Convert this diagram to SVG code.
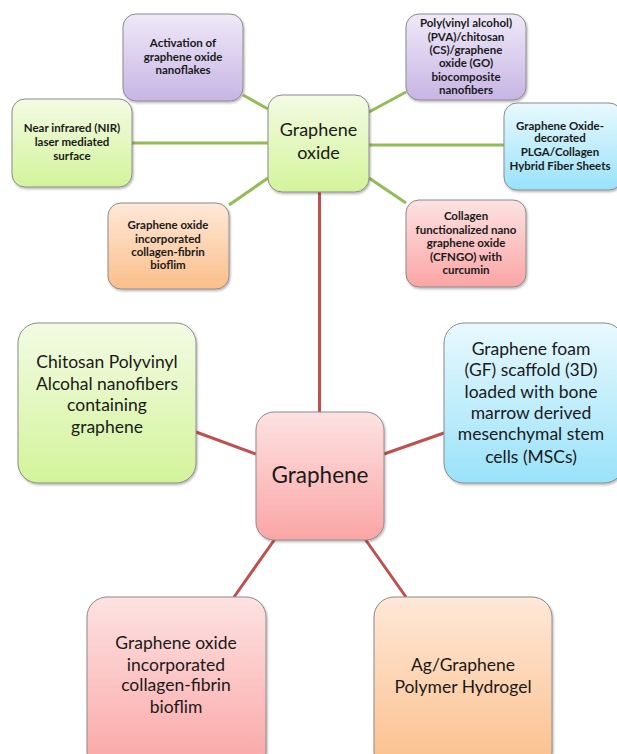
<svg xmlns="http://www.w3.org/2000/svg" width="617" height="754" viewBox="0 0 617 754">
<defs>
<linearGradient id="gPurple" x1="0" y1="0" x2="0" y2="1"><stop offset="0" stop-color="#efe9f8"/><stop offset="1" stop-color="#c7b5e4"/></linearGradient>
<linearGradient id="gGreen" x1="0" y1="0" x2="0" y2="1"><stop offset="0" stop-color="#f3fbe4"/><stop offset="1" stop-color="#d3f49a"/></linearGradient>
<linearGradient id="gBlue" x1="0" y1="0" x2="0" y2="1"><stop offset="0" stop-color="#e9f9fe"/><stop offset="1" stop-color="#99e2fa"/></linearGradient>
<linearGradient id="gRed" x1="0" y1="0" x2="0" y2="1"><stop offset="0" stop-color="#fde2e2"/><stop offset="1" stop-color="#fba5a5"/></linearGradient>
<linearGradient id="gOrange" x1="0" y1="0" x2="0" y2="1"><stop offset="0" stop-color="#fee8d8"/><stop offset="1" stop-color="#fbbf8a"/></linearGradient>
<filter id="sh" x="-10%" y="-10%" width="125%" height="125%"><feDropShadow dx="1" dy="1.5" stdDeviation="1.2" flood-color="#000" flood-opacity="0.3"/></filter>
</defs>
<style>
.n{stroke:#8c8c8c;stroke-width:1;filter:url(#sh)}
.s{font-family:Lato,"Liberation Sans",sans-serif;font-weight:bold;font-size:11.5px;fill:#1a1a1a;text-anchor:middle}
.m{font-family:Lato,"Liberation Sans",sans-serif;font-size:17.5px;fill:#1a1a1a;text-anchor:middle}
.c{font-family:Lato,"Liberation Sans",sans-serif;font-size:18px;fill:#1a1a1a;text-anchor:middle}
.g{stroke:#92bd52;stroke-width:3;fill:none}
.r{stroke:#c0504d;stroke-width:3;fill:none}
</style>
<rect width="617" height="754" fill="#fff"/>
<g id="connectors">
<line class="g" x1="243" y1="95" x2="268" y2="109"/>
<line class="g" x1="132" y1="143" x2="268" y2="143"/>
<line class="g" x1="369" y1="112" x2="406" y2="92"/>
<line class="g" x1="369" y1="145" x2="504" y2="145"/>
<line class="g" x1="369" y1="178" x2="406" y2="203"/>
<line class="g" x1="268" y1="178" x2="229" y2="205"/>
<line class="r" x1="319.5" y1="192" x2="319.5" y2="412"/>
<line class="r" x1="196" y1="432" x2="256" y2="454"/>
<line class="r" x1="444" y1="433" x2="384" y2="454"/>
<line class="r" x1="275" y1="539" x2="234" y2="597"/>
<line class="r" x1="365" y1="539" x2="406" y2="597"/>
</g>
<g id="graphene-oxide">
<rect class="n" x="268" y="95" width="101" height="97" rx="14" fill="url(#gGreen)"/>
<text class="c" x="318.5" y="136">Graphene</text>
<text class="c" x="318.5" y="159">oxide</text>
</g>
<g id="activation">
<rect class="n" x="123" y="14" width="120" height="87" rx="13" fill="url(#gPurple)"/>
<text class="s" x="183" y="47">Activation of</text>
<text class="s" x="183" y="61">graphene oxide</text>
<text class="s" x="183" y="74">nanoflakes</text>
</g>
<g id="pva">
<rect class="n" x="406" y="14" width="120" height="86" rx="13" fill="url(#gPurple)"/>
<text class="s" x="466" y="27">Poly(vinyl alcohol)</text>
<text class="s" x="466" y="41">(PVA)/chitosan</text>
<text class="s" x="466" y="54">(CS)/graphene</text>
<text class="s" x="466" y="67">oxide (GO)</text>
<text class="s" x="466" y="81">biocomposite</text>
<text class="s" x="466" y="94">nanofibers</text>
</g>
<g id="nir">
<rect class="n" x="12" y="99" width="120" height="88" rx="13" fill="url(#gGreen)"/>
<text class="s" x="72" y="132">Near infrared (NIR)</text>
<text class="s" x="72" y="146">laser mediated</text>
<text class="s" x="72" y="160">surface</text>
</g>
<g id="plga">
<rect class="n" x="504" y="103" width="118" height="87" rx="13" fill="url(#gBlue)"/>
<text class="s" x="560" y="130">Graphene Oxide-</text>
<text class="s" x="560" y="142">decorated</text>
<text class="s" x="560" y="156">PLGA/Collagen</text>
<text class="s" x="560" y="170">Hybrid Fiber Sheets</text>
</g>
<g id="go-biofilm-small">
<rect class="n" x="108" y="203" width="121" height="86" rx="13" fill="url(#gOrange)"/>
<text class="s" x="168" y="229">Graphene oxide</text>
<text class="s" x="168" y="243">incorporated</text>
<text class="s" x="168" y="256">collagen-fibrin</text>
<text class="s" x="168" y="269">bioflim</text>
</g>
<g id="cfngo">
<rect class="n" x="406" y="200" width="120" height="87" rx="13" fill="url(#gRed)"/>
<text class="s" x="466" y="220">Collagen</text>
<text class="s" x="466" y="234">functionalized nano</text>
<text class="s" x="466" y="247">graphene oxide</text>
<text class="s" x="466" y="261">(CFNGO) with</text>
<text class="s" x="466" y="274">curcumin</text>
</g>
<g id="chitosan">
<rect class="n" x="18" y="323" width="178" height="160" rx="20" fill="url(#gGreen)"/>
<text class="m" x="107" y="368">Chitosan Polyvinyl</text>
<text class="m" x="107" y="390">Alcohal nanofibers</text>
<text class="m" x="107" y="411">containing</text>
<text class="m" x="107" y="433">graphene</text>
</g>
<g id="gf-scaffold">
<rect class="n" x="444" y="323" width="180" height="160" rx="20" fill="url(#gBlue)"/>
<text class="m" x="531" y="355">Graphene foam</text>
<text class="m" x="531" y="376">(GF) scaffold (3D)</text>
<text class="m" x="531" y="398">loaded with bone</text>
<text class="m" x="531" y="419">marrow derived</text>
<text class="m" x="531" y="440">mesenchymal stem</text>
<text class="m" x="531" y="463">cells (MSCs)</text>
</g>
<g id="graphene">
<rect class="n" x="256" y="412" width="128" height="128" rx="18" fill="url(#gRed)"/>
<text x="320" y="483" font-family="Lato, 'Liberation Sans', sans-serif" font-size="22.5px" fill="#1a1a1a" text-anchor="middle">Graphene</text>
</g>
<g id="go-biofilm-large">
<rect class="n" x="87" y="597" width="179" height="175" rx="20" fill="url(#gRed)"/>
<text class="m" x="176" y="649">Graphene oxide</text>
<text class="m" x="176" y="671">incorporated</text>
<text class="m" x="176" y="691">collagen-fibrin</text>
<text class="m" x="176" y="713">bioflim</text>
</g>
<g id="ag-hydrogel">
<rect class="n" x="374" y="597" width="178" height="175" rx="20" fill="url(#gOrange)"/>
<text class="m" x="463" y="671">Ag/Graphene</text>
<text class="m" x="463" y="693">Polymer Hydrogel</text>
</g>
</svg>
